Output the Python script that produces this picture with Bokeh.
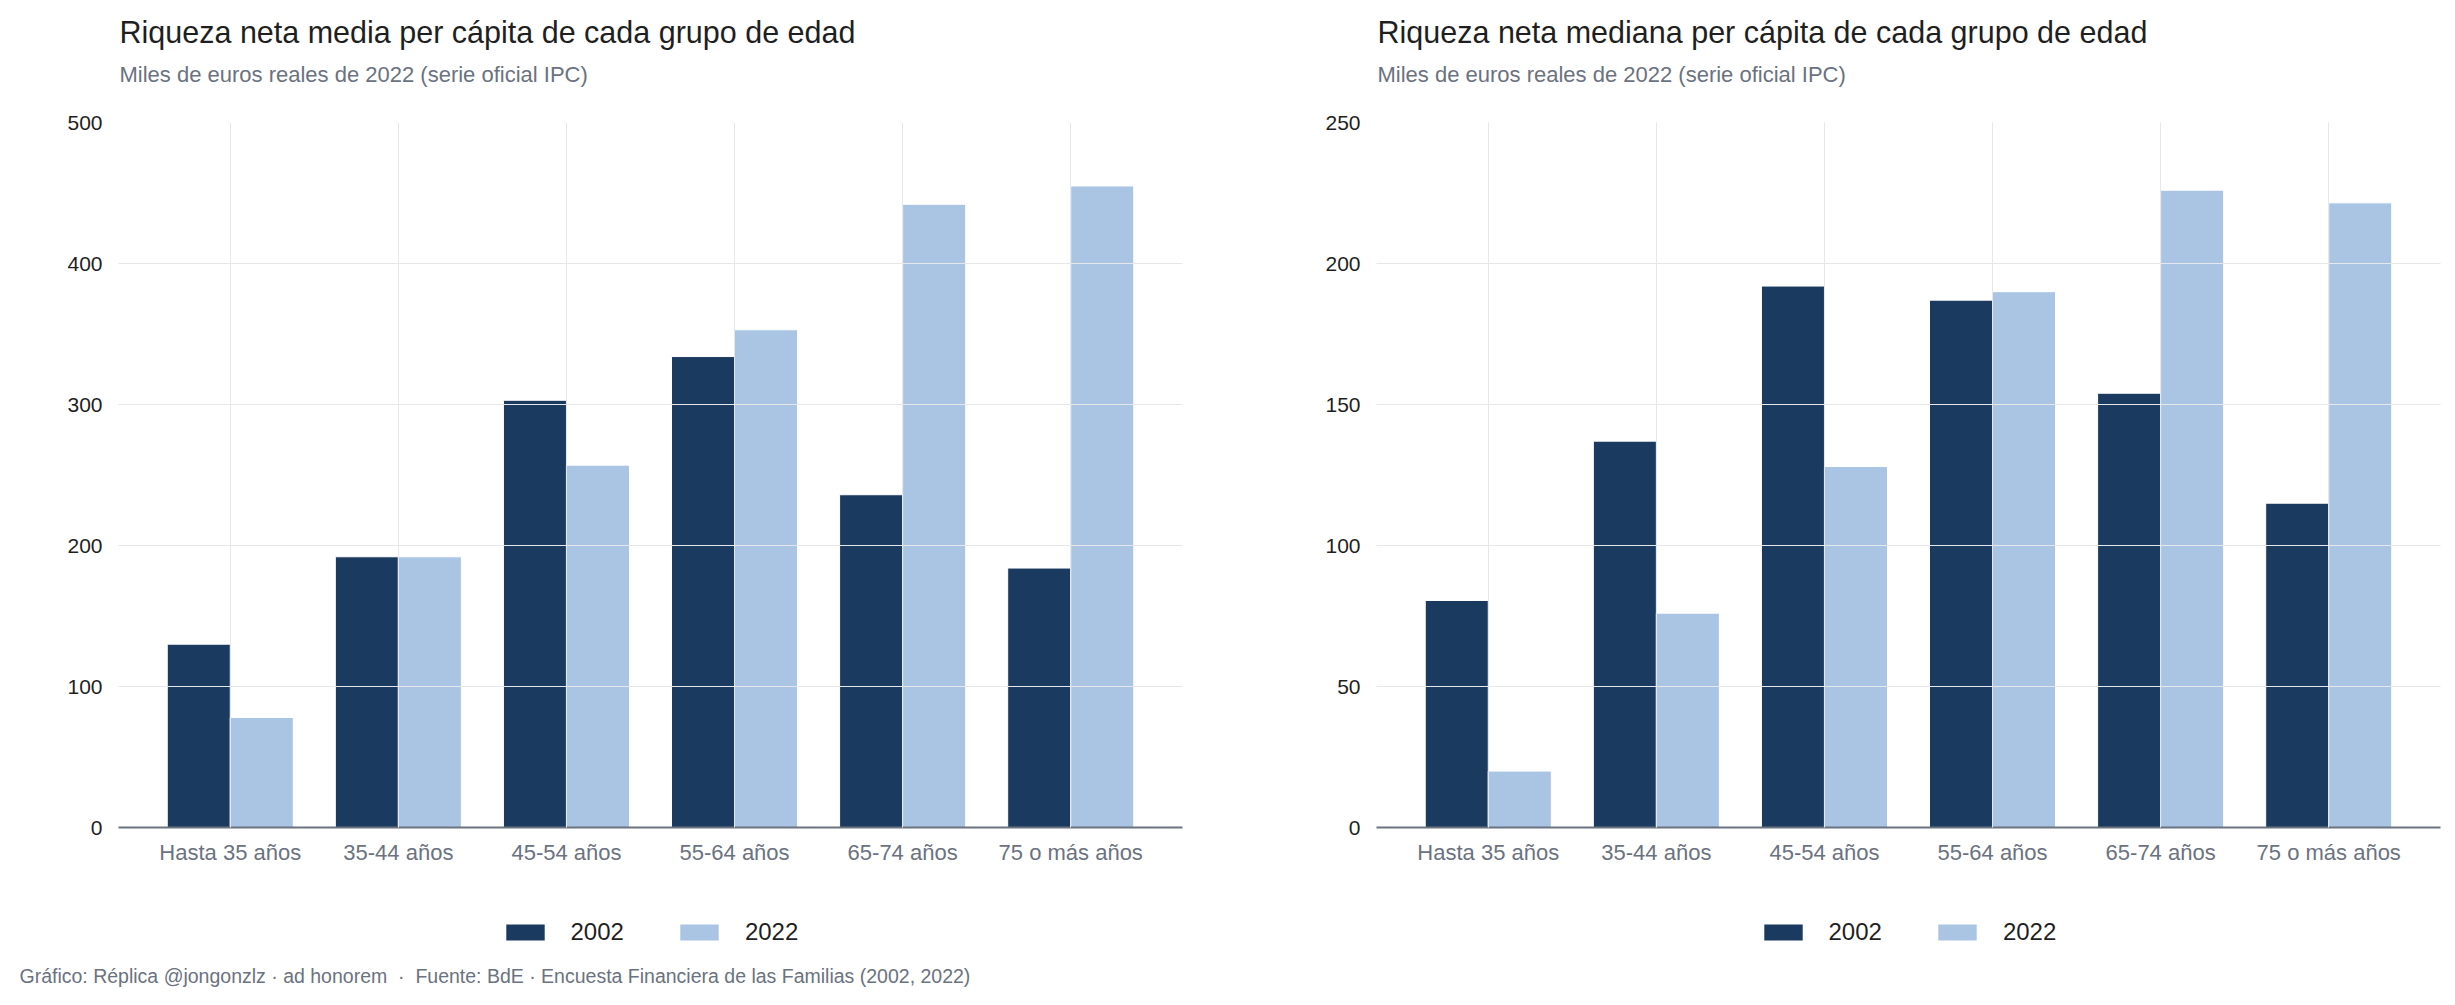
from bokeh.plotting import figure
from bokeh.models import (ColumnDataSource, FactorRange, Range1d, FixedTicker, Label,
                          Legend, LegendItem)
from bokeh.transform import dodge
from bokeh.layouts import row, column
from bokeh.embed import file_html
from bokeh.resources import INLINE

# ---------------- data ----------------
grupos = ["Hasta 35 años", "35-44 años", "45-54 años", "55-64 años", "65-74 años", "75 o más años"]
anios = ["2002", "2022"]
media_2002 = [130, 192, 303, 334, 236, 184]
media_2022 = [78, 192, 257, 353, 442, 455]
mediana_2002 = [80.5, 137, 192, 187, 154, 115]
mediana_2022 = [20, 76, 128, 190, 226, 221.5]
ticks_media = [0, 100, 200, 300, 400, 500]
ticks_mediana = [0, 50, 100, 150, 200, 250]

titulo_media = "Riqueza neta media per cápita de cada grupo de edad"
titulo_mediana = "Riqueza neta mediana per cápita de cada grupo de edad"
subtitulo = "Miles de euros reales de 2022 (serie oficial IPC)"
pie = ("Gráfico: Réplica @jongonzlz · ad honorem\u00a0\u00a0·\u00a0\u00a0Fuente: BdE · "
       "Encuesta Financiera de las Familias (2002, 2022)")

# ---------------- style / layout ----------------
FONT = "Liberation Sans"
DARK = "#1a3a5f"
LIGHT = "#a9c5e3"
GRID = "#e5e7eb"
GRAY = "#6b7280"
INK = "#1f1f1f"
FRAME_W = 1064
FRAME_H = 705
HEAD_H = 100          # header strip (title + subtitle)
TOP = 22              # border above the frame in the chart figure
BOTTOM = 40           # border below the frame (x axis)
FOOT_H = 1005 - HEAD_H - TOP - FRAME_H - BOTTOM   # legend / footer strip
LEFT1, RIGHT1 = 118, 60
LEFT2, RIGHT2 = 134, 15


def strip(width, height):
    s = figure(width=width, height=height, x_range=Range1d(0, 1), y_range=Range1d(0, 1),
               x_axis_type=None, y_axis_type=None, min_border=0,
               output_backend="svg", toolbar_location=None,
               background_fill_color="white", border_fill_color="white",
               outline_line_color=None)
    s.title.visible = False
    s.grid.visible = False
    return s


def header(width, left, title):
    h = strip(width, HEAD_H)
    h.add_layout(Label(x=left + 1, y=HEAD_H - 31, x_units="screen", y_units="screen",
                       text=title, text_font=FONT, text_font_size="30.5px", text_color=INK,
                       text_baseline="middle", text_align="left"))
    h.add_layout(Label(x=left + 1, y=HEAD_H - 74, x_units="screen", y_units="screen",
                       text=subtitulo, text_font=FONT, text_font_size="22px", text_color=GRAY,
                       text_baseline="middle", text_align="left"))
    return h


def footer_strip(width, left, footer=None):
    f = strip(width, FOOT_H)
    # legend-only renderers: their single point lies outside the visible range
    d1 = f.vbar(x=[-10], top=[-10], width=0.1, fill_color=DARK, line_color=None)
    d2 = f.vbar(x=[-10], top=[-10], width=0.1, fill_color=LIGHT, line_color=None)
    legend_w = 2 * (48 + 22 + 54) + 51
    legend = Legend(items=[LegendItem(label=anios[0], renderers=[d1]),
                           LegendItem(label=anios[1], renderers=[d2])],
                    orientation="horizontal",
                    location=(left + FRAME_W / 2 - legend_w / 2, FOOT_H - 64.5 - 14),
                    glyph_width=48, glyph_height=20, label_standoff=22, spacing=51,
                    padding=0, margin=0, border_line_color=None, background_fill_alpha=0,
                    label_text_font=FONT, label_text_font_size="24px", label_text_color=INK)
    f.add_layout(legend)
    if footer:
        f.add_layout(Label(x=19, y=FOOT_H - (975 - (1005 - FOOT_H)), x_units="screen",
                           y_units="screen", text=footer, text_font=FONT,
                           text_font_size="19.5px", text_color=GRAY,
                           text_baseline="middle", text_align="left"))
    return f


def chart(v02, v22, ymax, ticks, left, right):
    src = ColumnDataSource(dict(g=grupos, a=v02, b=v22))
    p = figure(x_range=FactorRange(*grupos, range_padding=0.165, range_padding_units="absolute"),
               y_range=Range1d(0, ymax),
               frame_width=FRAME_W, frame_height=FRAME_H,
               min_border_left=left, min_border_right=right,
               min_border_top=TOP, min_border_bottom=BOTTOM,
               output_backend="svg", toolbar_location=None,
               background_fill_color="white", border_fill_color="white",
               outline_line_color=None)
    p.title.visible = False
    p.vbar(x=dodge("g", -0.1875, range=p.x_range), top="a", width=0.375, source=src,
           fill_color=DARK, line_color="white", line_width=1)
    p.vbar(x=dodge("g", 0.1875, range=p.x_range), top="b", width=0.375, source=src,
           fill_color=LIGHT, line_color="white", line_width=1)

    for g in (p.xgrid, p.ygrid):
        g.grid_line_color = GRID
        g.grid_line_width = 1
        g.level = "guide"
    p.ygrid.ticker = FixedTicker(ticks=ticks)

    p.yaxis.ticker = FixedTicker(ticks=ticks)
    p.yaxis.axis_line_color = None
    p.yaxis.major_tick_line_color = None
    p.yaxis.minor_tick_line_color = None
    p.yaxis.major_label_text_font = FONT
    p.yaxis.major_label_text_font_size = "21px"
    p.yaxis.major_label_text_color = INK
    p.yaxis.major_label_standoff = 10

    p.xaxis.axis_line_color = GRAY
    p.xaxis.axis_line_width = 2
    p.xaxis.major_tick_line_color = None
    p.xaxis.minor_tick_line_color = None
    p.xaxis.major_label_text_font = FONT
    p.xaxis.major_label_text_font_size = "22px"
    p.xaxis.major_label_text_color = GRAY
    p.xaxis.major_label_standoff = 6
    return p


W1 = LEFT1 + FRAME_W + RIGHT1
W2 = LEFT2 + FRAME_W + RIGHT2

h1 = header(W1, LEFT1, titulo_media)
h2 = header(W2, LEFT2, titulo_mediana)
p1 = chart(media_2002, media_2022, 500, ticks_media, LEFT1, RIGHT1)
p2 = chart(mediana_2002, mediana_2022, 250, ticks_mediana, LEFT2, RIGHT2)
f1 = footer_strip(W1, LEFT1, pie)
f2 = footer_strip(W2, LEFT2)

layout = column(row(h1, h2), row(p1, p2), row(f1, f2))
open("out.html", "w").write(file_html(layout, INLINE))
